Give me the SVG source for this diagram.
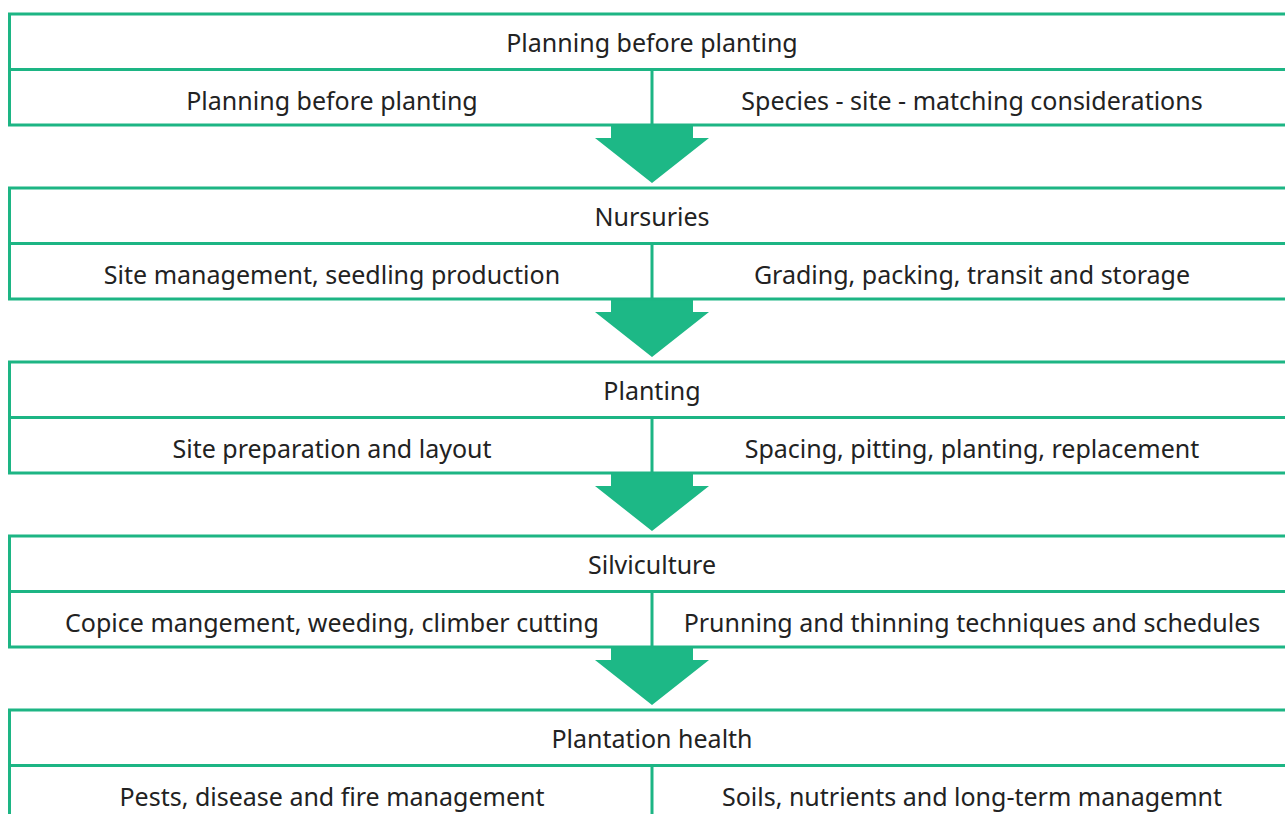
<svg xmlns="http://www.w3.org/2000/svg" width="1285" height="814" viewBox="0 0 1285 814">
  <style>
    .frame { fill: none; stroke: #1db584; stroke-width: 3; }
    .rule { stroke: #1db584; stroke-width: 3; }
    .flow { fill: #1db886; }
    text { font-family: "Noto Sans", "Open Sans", "Liberation Sans", sans-serif; font-size: 25px; fill: #222; text-anchor: middle; }
  </style>
  <defs>
    <!-- one stage: outer frame, row divider, column divider -->
    <g id="stage-frame">
      <rect class="frame" x="9.5" y="0" width="1290" height="111"/>
      <line class="rule" x1="9.5" y1="55.5" x2="1290" y2="55.5"/>
      <line class="rule" x1="652" y1="55.5" x2="652" y2="111"/>
    </g>
    <polygon id="down-arrow" points="611,0 693,0 693,13 709,13 652,58 595,13 611,13"/>
  </defs>

  <g id="connectors">
    <use href="#down-arrow" class="flow" x="0" y="125"/>
    <use href="#down-arrow" class="flow" x="0" y="299"/>
    <use href="#down-arrow" class="flow" x="0" y="473"/>
    <use href="#down-arrow" class="flow" x="0" y="647"/>
  </g>

  <g id="stage-planning" transform="translate(0,14)">
    <use href="#stage-frame"/>
    <text x="652" y="38">Planning before planting</text>
    <text x="332" y="96">Planning before planting</text>
    <text x="972" y="96">Species - site - matching considerations</text>
  </g>

  <g id="stage-nurseries" transform="translate(0,188)">
    <use href="#stage-frame"/>
    <text x="652" y="38">Nursuries</text>
    <text x="332" y="96">Site management, seedling production</text>
    <text x="972" y="96">Grading, packing, transit and storage</text>
  </g>

  <g id="stage-planting" transform="translate(0,362)">
    <use href="#stage-frame"/>
    <text x="652" y="38">Planting</text>
    <text x="332" y="96">Site preparation and layout</text>
    <text x="972" y="96">Spacing, pitting, planting, replacement</text>
  </g>

  <g id="stage-silviculture" transform="translate(0,536)">
    <use href="#stage-frame"/>
    <text x="652" y="38">Silviculture</text>
    <text x="332" y="96">Copice mangement, weeding, climber cutting</text>
    <text x="972" y="96">Prunning and thinning techniques and schedules</text>
  </g>

  <g id="stage-health" transform="translate(0,710)">
    <use href="#stage-frame"/>
    <text x="652" y="38">Plantation health</text>
    <text x="332" y="96">Pests, disease and fire management</text>
    <text x="972" y="96">Soils, nutrients and long-term managemnt</text>
  </g>
</svg>
